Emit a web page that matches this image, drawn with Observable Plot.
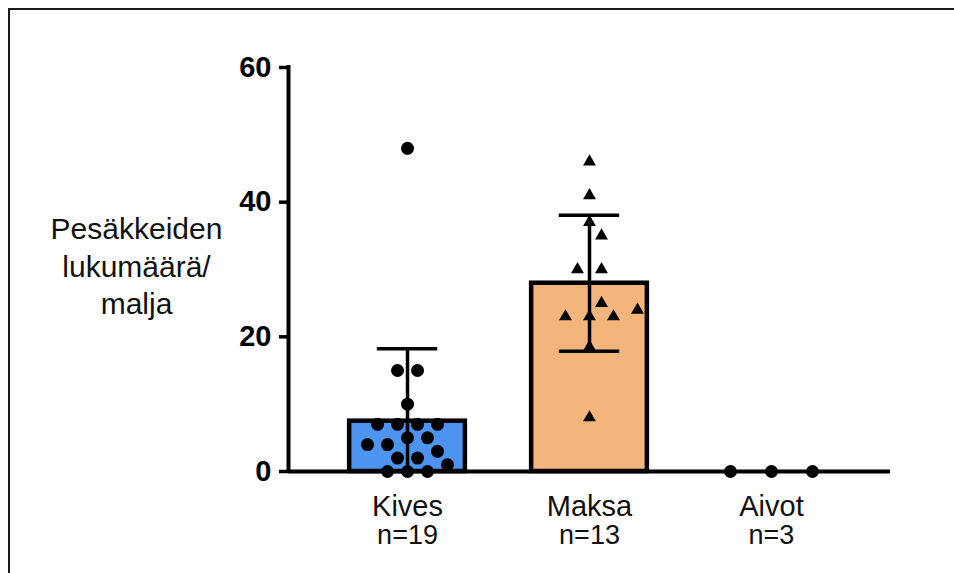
<!DOCTYPE html>
<html>
<head>
<meta charset="utf-8">
<script src="https://cdn.jsdelivr.net/npm/d3@7"></script>
<script src="https://cdn.jsdelivr.net/npm/@observablehq/plot@0.6"></script>
<style>
  html, body { margin: 0; padding: 0; background: #fff; }
  #wrap { position: relative; width: 954px; height: 573px; overflow: hidden; }
  #frame { position: absolute; left: 8px; top: 8px; right: -10px; bottom: -10px;
           border-top: 2.5px solid #1a1a1a; border-left: 2.5px solid #1a1a1a; pointer-events: none; }
  #chart { position: absolute; left: 0; top: 0; }
</style>
</head>
<body>
<div id="wrap"><div id="chart"></div><div id="frame"></div></div>
<script>
// ---- data ----
const categories = ["Kives", "Maksa", "Aivot"];
const nLabels = ["n=19", "n=13", "n=3"];
const kivesValues = [48, 15, 15, 10, 7, 7, 7, 7, 5, 5, 4, 4, 3, 2, 2, 1, 0, 0, 0];
const maksaValues = [46, 41, 37, 35, 30, 30, 25, 24, 23, 23, 23, 18.5, 8];
const aivotValues = [0, 0, 0];
const yTicks = [0, 20, 40, 60];
const yLabel = "Pesäkkeiden\nlukumäärä/\nmalja";

// ---- layout / style ----
const W = 954, H = 573;
const mL = 288, mR = 64, mT = 67, mB = 102;
const xDomain = [-0.654, 2.654];
const yDomain = [0, 60];
const pxPerX = (W - mL - mR) / (xDomain[1] - xDomain[0]);
const pxPerY = (H - mT - mB) / (yDomain[1] - yDomain[0]);
const barHalf = 0.318;
const capHalf = 0.166;
const fills = ["#4d94f0", "#f4b57d", "#ffffff"];
const symbols = ["circle", "triangle", "circle"];
const spacings = [20, 24, 41];

// simple row-based beeswarm layout (pixel offsets from the band centre);
// larger rows are placed first, each row centred and shifted only if it collides
function swarm(values, spacing = 20, minDist = 15) {
  const rows = d3.groups(values, v => v)
    .sort((a, b) => (b[1].length - a[1].length) || (b[0] - a[0]));
  const placed = [];
  for (const [v, arr] of rows) {
    const n = arr.length;
    const base = d3.range(n).map(i => (i - (n - 1) / 2) * spacing);
    const yPx = v * pxPerY;
    for (let k = 0; k < 60; k++) {
      const shift = k === 0 ? 0 : (k % 2 ? 1 : -1) * Math.ceil(k / 2) * spacing / 2;
      const cand = base.map(b => b + shift);
      const ok = cand.every(cx => placed.every(p => Math.hypot(cx - p.off, yPx - p.v * pxPerY) >= minDist));
      if (ok) { cand.forEach(cx => placed.push({v, off: cx})); break; }
    }
  }
  return placed;
}

const seriesValues = [kivesValues, maksaValues, aivotValues];
const points = seriesValues.flatMap((vals, i) =>
  swarm(vals, spacings[i]).map(p => ({i, cat: categories[i], x: i + p.off / pxPerX, y: p.v, symbol: symbols[i]})));

const summary = seriesValues.map((vals, i) => ({
  i, cat: categories[i], fill: fills[i],
  mean: d3.mean(vals), sd: d3.deviation(vals) || 0
}));
const withErr = summary.filter(d => d.sd > 0);
const labels = categories.map((c, i) => ({i, c, n: nLabels[i]}));

const chart = Plot.plot({
  width: W, height: H,
  marginLeft: mL, marginRight: mR, marginTop: mT, marginBottom: mB,
  style: {fontFamily: "'Liberation Sans', Arial, Helvetica, sans-serif", color: "#000", background: "transparent", overflow: "visible"},
  x: {domain: xDomain, axis: null},
  y: {domain: yDomain, axis: null},
  color: {type: "identity"},
  marks: [
    Plot.rectY(summary, {x1: d => d.i - barHalf, x2: d => d.i + barHalf, y1: d => 0, y2: "mean",
      fill: "fill", stroke: "#000", strokeWidth: 4.5}),
    Plot.ruleY([0], {stroke: "#000", strokeWidth: 4}),
    Plot.ruleX([xDomain[0]], {stroke: "#000", strokeWidth: 4, strokeLinecap: "square"}),
    Plot.axisY({ticks: yTicks, tickSize: 9, tickPadding: 8, stroke: "#000", strokeWidth: 3.5,
      fontSize: 29, fontWeight: "bold", fill: "#000", label: null}),
    Plot.ruleX(withErr, {x: "i", y1: d => Math.max(0, d.mean - d.sd), y2: d => d.mean + d.sd, stroke: "#000", strokeWidth: 3.5}),
    Plot.ruleY(withErr, {y: d => d.mean + d.sd, x1: d => d.i - capHalf, x2: d => d.i + capHalf, stroke: "#000", strokeWidth: 3.5}),
    Plot.ruleY(withErr.filter(d => d.mean - d.sd > 0), {y: d => d.mean - d.sd, x1: d => d.i - capHalf, x2: d => d.i + capHalf, stroke: "#000", strokeWidth: 3.5}),
    Plot.dot(points.filter(d => d.symbol === "circle"), {x: "x", y: "y", r: 6.5, fill: "#000", symbol: "circle"}),
    Plot.dot(points.filter(d => d.symbol === "triangle"), {x: "x", y: "y", r: 4.8, fill: "#000", symbol: "triangle"}),
    Plot.text(labels, {x: "i", y: d => 0, text: "c", dy: 44, lineAnchor: "bottom", fontSize: 29, fill: "#111"}),
    Plot.text(labels, {x: "i", y: d => 0, text: "n", dy: 72, lineAnchor: "bottom", fontSize: 27, fill: "#111"}),
    Plot.text([yLabel], {frameAnchor: "left", dx: -152, dy: -5, text: d => d, fontSize: 30, lineHeight: 1.25,
      lineAnchor: "middle", textAnchor: "middle", fill: "#111"})
  ]
});
document.getElementById("chart").appendChild(chart);
</script>
</body>
</html>
